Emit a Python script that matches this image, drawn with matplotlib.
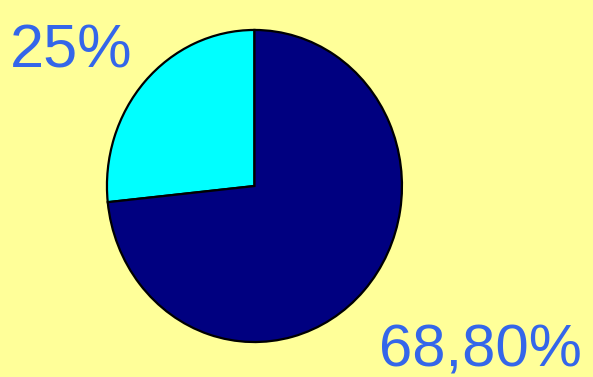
import matplotlib.pyplot as plt

# parts du camembert
parts = [25, 68.8]
etiquettes = ["25%", "68,80%"]
couleurs = ["#00FFFF", "#000080"]

fond = "#FFFF99"
bleu_texte = "#3466EA"

fig = plt.figure(figsize=(5.93, 3.77), dpi=100, facecolor=fond)
ax = fig.add_axes([0, 0, 1, 1])
ax.set_facecolor(fond)

ax.pie(parts, colors=couleurs, startangle=90, counterclock=True,
       wedgeprops=dict(edgecolor="black", linewidth=1.6))

# léger étirement vertical du disque
ax.set_aspect("auto")
ax.set_xlim(-1.725, 2.295)
ax.set_ylim(-1.224, 1.192)
ax.axis("off")

fig.text(10 / 593, 1 - 67 / 377, etiquettes[0], fontsize=44, color=bleu_texte,
         family="Liberation Sans", ha="left", va="baseline")
fig.text(582 / 593, 1 - 367 / 377, etiquettes[1], fontsize=43, color=bleu_texte,
         family="Liberation Sans", ha="right", va="baseline")

fig.savefig("out.png", dpi=100, facecolor=fond)
